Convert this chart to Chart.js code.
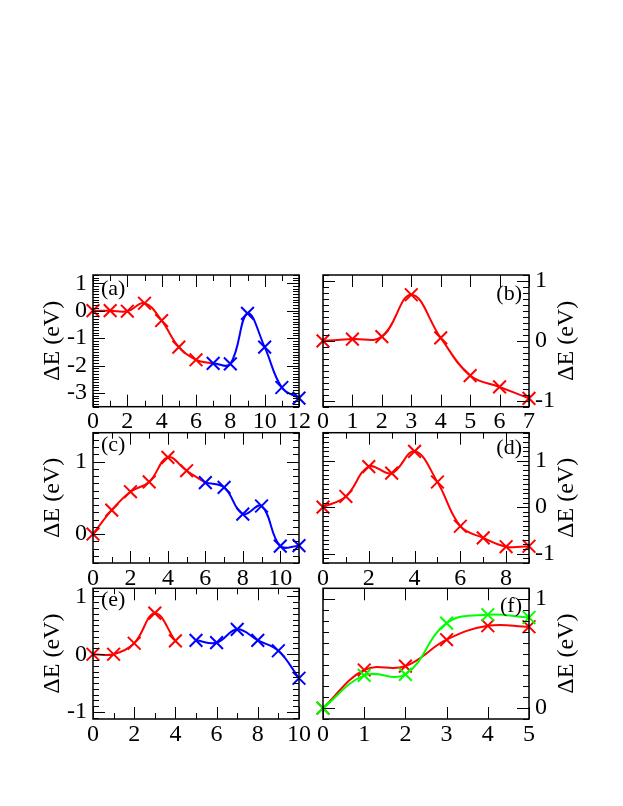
<!DOCTYPE html>
<html>
<head>
<meta charset="utf-8">
<script src="https://cdn.jsdelivr.net/npm/chart.js@4.4.1/dist/chart.umd.min.js"></script>
<style>
  html, body { margin: 0; padding: 0; background: #fff; }
  #wrap { position: relative; width: 623px; height: 806px; background: #fff; }
  canvas { position: absolute; left: 0; top: 0; }
</style>
</head>
<body>
<div id="wrap">
  <canvas id="pa" width="623" height="806"></canvas>
  <canvas id="pb" width="623" height="806"></canvas>
  <canvas id="pc" width="623" height="806"></canvas>
  <canvas id="pd" width="623" height="806"></canvas>
  <canvas id="pe" width="623" height="806"></canvas>
  <canvas id="pf" width="623" height="806"></canvas>
</div>
<script>
// ---------------- DATA ----------------
const yTitle = 'ΔE (eV)';
const panelLabels = ['(a)', '(b)', '(c)', '(d)', '(e)', '(f)'];

// (a)
const aRedX  = [0, 1, 2, 3, 4, 5, 6, 7];
const aRedY  = [0, 0, -0.02, 0.27, -0.36, -1.33, -1.79, -1.92];
const aBlueX = [7, 8, 9, 10, 11, 12];
const aBlueY = [-1.92, -1.94, -0.10, -1.33, -2.80, -3.19];
// (b)
const bRedX  = [0, 1, 2, 3, 4, 5, 6, 7];
const bRedY  = [0, 0.03, 0.07, 0.77, 0.05, -0.58, -0.77, -0.96];
// (c)
const cRedX  = [0, 1, 2, 3, 4, 5, 6];
const cRedY  = [0, 0.33, 0.585, 0.72, 1.06, 0.875, 0.71];
const cBlueX = [6, 7, 8, 9, 10, 11];
const cBlueY = [0.71, 0.645, 0.276, 0.387, -0.166, -0.16];
// (d)
const dRedX  = [0, 1, 2, 3, 4, 5, 6, 7, 8, 9];
const dRedY  = [0, 0.23, 0.87, 0.73, 1.20, 0.54, -0.41, -0.66, -0.85, -0.84];
// (e)
const eRedX  = [0, 1, 2, 3, 4];
const eRedY  = [0, 0, 0.19, 0.71, 0.23];
const eBlueX = [5, 6, 7, 8, 9, 10];
const eBlueY = [0.24, 0.20, 0.43, 0.24, 0.06, -0.415];
// (f)
const fRedX   = [0, 1, 2, 3, 4, 5];
const fRedY   = [0, 0.35, 0.385, 0.628, 0.756, 0.747];
const fGreenX = [0, 1, 2, 3, 4, 5];
const fGreenY = [0, 0.30, 0.31, 0.78, 0.857, 0.832];

// axis ranges / ticks
const xTickStep = { a: 2, b: 1, c: 2, d: 2, e: 2, f: 1 };
const yTickStep = 1;

// ---------------- STYLE / LAYOUT ----------------
const FONT = "'Liberation Serif', 'Times New Roman', serif";
const W = 623, H = 806;
const COL = { left: { l: 93, r: 299 }, right: { l: 323, r: 529 } };
const ROW = [ { t: 275, b: 406.7 }, { t: 432.7, b: 563 }, { t: 588.3, b: 719 } ];
const YAXW = 55, XAXH = 40;

const innerTicks = {
  id: 'innerTicks',
  afterDraw(chart, args, o) {
    const { ctx, chartArea: a } = chart;
    const xs = chart.scales.x, ys = chart.scales.y;
    ctx.save();
    ctx.strokeStyle = '#000';
    ctx.lineWidth = 1;
    const line = (x1, y1, x2, y2) => { ctx.beginPath(); ctx.moveTo(x1, y1); ctx.lineTo(x2, y2); ctx.stroke(); };
    const each = (sc, step, fn) => {
      const i0 = Math.ceil(sc.min / step - 1e-6), i1 = Math.floor(sc.max / step + 1e-6);
      for (let i = i0; i <= i1; i++) fn(sc.getPixelForValue(i * step));
    };
    const xt = (len) => (p) => { const px = Math.round(p) + 0.5; line(px, a.bottom, px, a.bottom - len); line(px, a.top, px, a.top + len); };
    const yt = (len) => (p) => { const py = Math.round(p) + 0.5; line(a.left, py, a.left + len, py); line(a.right, py, a.right - len, py); };
    if (o.xMinor) each(xs, o.xMinor, xt(6));
    each(xs, o.xMajor, xt(12));
    if (o.yMinor) each(ys, o.yMinor, yt(6));
    each(ys, o.yMajor, yt(12));
    ctx.lineWidth = 1.5;
    ctx.strokeRect(a.left, a.top, a.right - a.left, a.bottom - a.top);
    // panel label
    ctx.fillStyle = '#000';
    ctx.font = '22px ' + FONT;
    ctx.textBaseline = 'middle';
    if (o.labelSide === 'left') { ctx.textAlign = 'left'; ctx.fillText(o.label, a.left + 8, a.top + o.labelDy); }
    else { ctx.textAlign = 'right'; ctx.fillText(o.label, a.right - 7, a.top + o.labelDy); }
    // right-hand axis title (reads bottom to top)
    if (o.rightTitle) {
      ctx.save();
      ctx.font = '24px ' + FONT;
      ctx.textAlign = 'center';
      ctx.textBaseline = 'middle';
      ctx.translate(a.right + 38, (a.top + a.bottom) / 2);
      ctx.rotate(-Math.PI / 2);
      ctx.fillText(o.rightTitle, 0, 0);
      ctx.restore();
    }
    ctx.restore();
  }
};

const COLORS = { red: '#ff0000', blue: '#0000ff', green: '#00ff00' };

function series(xs, ys, color, hideLast) {
  return {
    data: xs.map((x, i) => ({ x, y: ys[i] })),
    borderColor: COLORS[color],
    backgroundColor: COLORS[color],
    borderWidth: 2,
    tension: 0.4,
    pointStyle: 'crossRot',
    pointRadius: (c) => (hideLast && c.dataIndex === xs.length - 1) ? 0 : 9,
    pointBorderWidth: 2,
    pointBorderColor: COLORS[color],
    pointHoverRadius: 9,
    clip: false
  };
}

function panel(id, side, row, xMin, xMax, xStep, xMinor, yMin, yMax, yMinor, datasets, label, labelDy) {
  const c = COL[side], r = ROW[row];
  const pad = side === 'left'
    ? { left: c.l - YAXW, right: W - c.r, top: r.t, bottom: H - r.b - XAXH }
    : { left: c.l, right: W - c.r - YAXW, top: r.t, bottom: H - r.b - XAXH };
  new Chart(document.getElementById(id), {
    type: 'line',
    data: { datasets },
    options: {
      responsive: false,
      animation: false,
      events: [],
      layout: { padding: pad },
      plugins: {
        legend: { display: false },
        tooltip: { enabled: false },
        innerTicks: {
          xMajor: xStep, xMinor: xMinor, yMajor: yTickStep, yMinor: yMinor,
          label: label, labelSide: side, labelDy: labelDy,
          rightTitle: side === 'right' ? yTitle : null
        }
      },
      scales: {
        x: {
          type: 'linear', position: 'bottom', min: xMin, max: xMax,
          grid: { display: false, drawTicks: false },
          border: { display: false },
          ticks: {
            stepSize: xStep, autoSkip: false, maxRotation: 0, includeBounds: false,
            padding: 1, color: '#000', font: { family: FONT, size: 24 },
            callback: (v) => String(v)
          },
          afterFit(s) { s.height = XAXH; s.paddingLeft = 0; s.paddingRight = 0; }
        },
        y: {
          type: 'linear', position: side, min: yMin, max: yMax,
          grid: { display: false, drawTicks: false },
          border: { display: false },
          title: side === 'left'
            ? { display: true, text: yTitle, color: '#000', padding: 0, font: { family: FONT, size: 24 } }
            : { display: false },
          ticks: {
            stepSize: yTickStep, autoSkip: false, includeBounds: false,
            padding: 6, color: '#000', font: { family: FONT, size: 24 },
            callback: (v) => String(v)
          },
          afterFit(s) { s.width = YAXW; s.paddingTop = 0; s.paddingBottom = 0; }
        }
      }
    },
    plugins: [innerTicks]
  });
}

panel('pa', 'left', 0, 0, 12, xTickStep.a, 1, -3.5, 1.3, 0.1,
  [series(aBlueX, aBlueY, 'blue'), series(aRedX, aRedY, 'red', true)], panelLabels[0], 14);
panel('pb', 'right', 0, 0, 7, xTickStep.b, 0, -1.1, 1.1, 0.1,
  [series(bRedX, bRedY, 'red')], panelLabels[1], 19);
panel('pc', 'left', 1, 0, 11, xTickStep.c, 1, -0.4, 1.4, 0.1,
  [series(cBlueX, cBlueY, 'blue'), series(cRedX, cRedY, 'red', true)], panelLabels[2], 13);
panel('pd', 'right', 1, 0, 9, xTickStep.d, 1, -1.2, 1.6, 0.1,
  [series(dRedX, dRedY, 'red')], panelLabels[3], 15.5);
panel('pe', 'left', 2, 0, 10, xTickStep.e, 1, -1.12, 1.14, 0.1,
  [series(eBlueX, eBlueY, 'blue'), series(eRedX, eRedY, 'red')], panelLabels[4], 12);
panel('pf', 'right', 2, 0, 5, xTickStep.f, 0, -0.1, 1.1, 0.1,
  [series(fGreenX, fGreenY, 'green'), series(fRedX, fRedY, 'red')], panelLabels[5], 17.5);
</script>
</body>
</html>
